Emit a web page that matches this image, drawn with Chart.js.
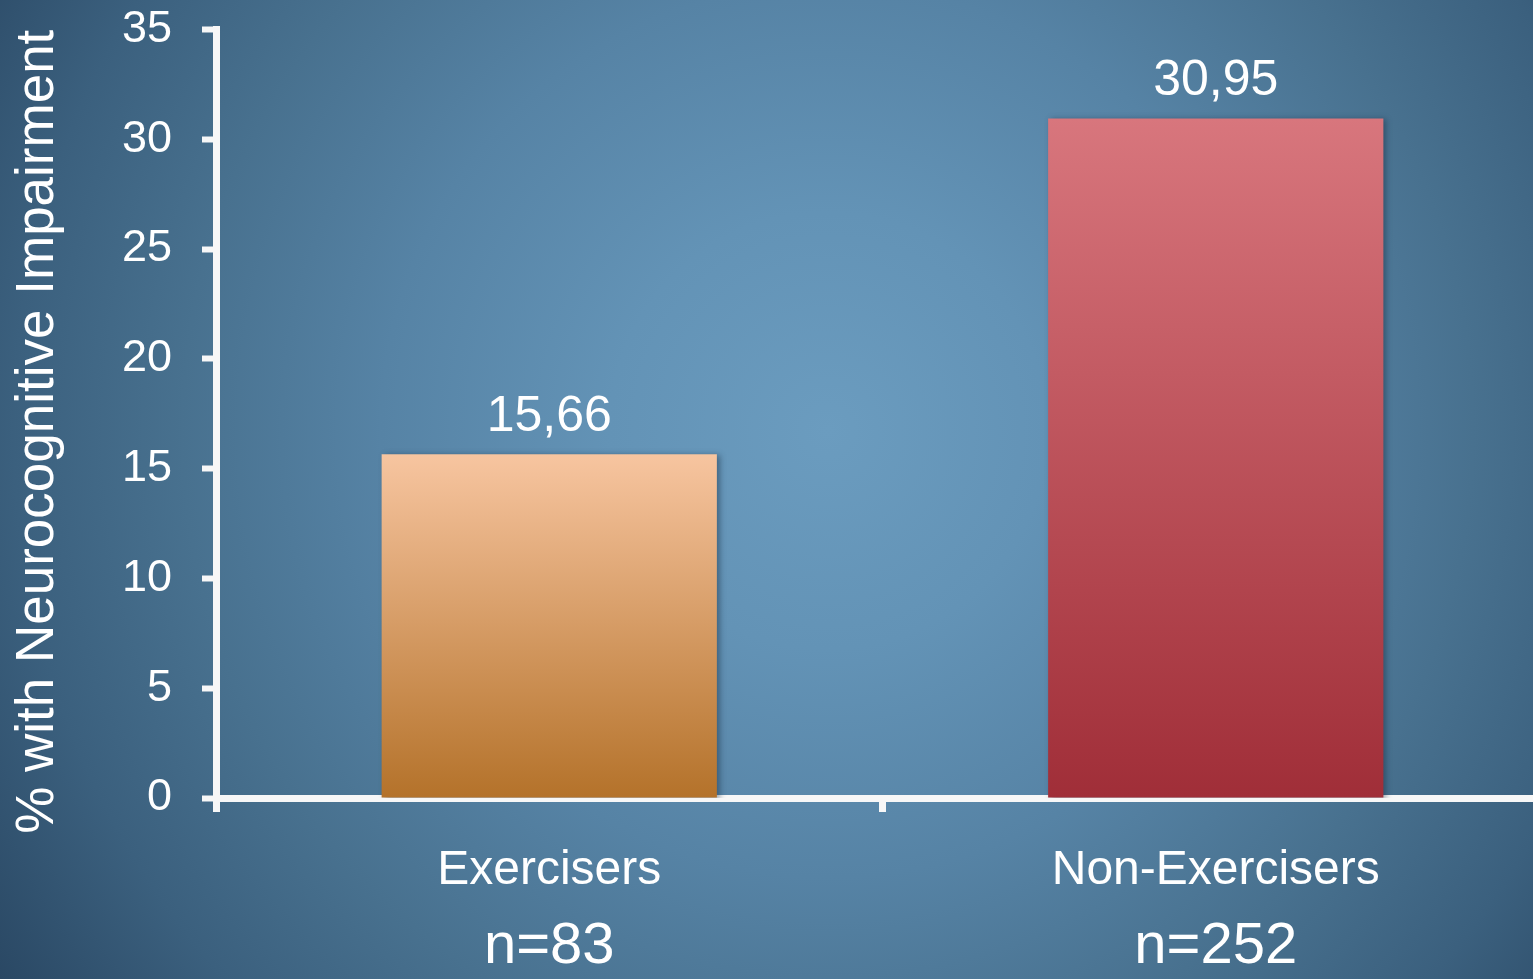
<!DOCTYPE html>
<html>
<head>
<meta charset="utf-8">
<script src="https://cdn.jsdelivr.net/npm/chart.js@4.4.1/dist/chart.umd.min.js"></script>
<style>
  html, body { margin: 0; padding: 0; overflow: hidden; }
  body {
    width: 1533px; height: 979px;
    background: radial-gradient(circle farthest-corner at 54% 44%,
      #6b9cbf 0%, #6393b6 22%, #5683a5 45%, #48718f 65%, #3b607e 82%, #2a4864 100%);
  }
  #wrap { position: relative; width: 1549px; height: 979px; }
</style>
</head>
<body>
<div id="wrap"><canvas id="chart"></canvas></div>
<script>
const categories    = ['Exercisers', 'Non-Exercisers'];
const sampleSizes   = ['n=83', 'n=252'];
const impairmentPct = [15.66, 30.95];
const yMin = 0, yMax = 35, yStep = 5;
const yTitle = '% with Neurocognitive Impairment';

// top / bottom colours of each bar's vertical fade
const barTop    = ['#f7c5a0', '#d8767d'];
const barBottom = ['#b4722a', '#a02e38'];

const AXIS = '#f7f7f7';
const FONT = '"Liberation Sans", Arial, sans-serif';
Chart.defaults.font.family = FONT;
Chart.defaults.color = '#ffffff';

const fmt = v => v.toFixed(2).replace('.', ',');

const barFill = ctx => {
    const chart = ctx.chart;
    const i = ctx.dataIndex;
    const y = chart.scales.y;
    if (!chart.chartArea || !y || i === undefined) return barTop[0];
    const top = y.getPixelForValue(impairmentPct[i]);
    const bottom = y.getPixelForValue(0);
    if (!isFinite(top) || !isFinite(bottom)) return barTop[i];
    const g = chart.ctx.createLinearGradient(0, top, 0, bottom);
    g.addColorStop(0, barTop[i]);
    g.addColorStop(1, barBottom[i]);
    return g;
};

// soft drop shadow under the bars, then the value on top of each
const barDecor = {
    id: 'barDecor',
    beforeDatasetsDraw(chart) {
        const c = chart.ctx;
        c.save();
        c.shadowColor = 'rgba(20,40,60,0.45)';
        c.shadowBlur = 6;
        c.shadowOffsetX = 3;
        c.shadowOffsetY = 1;
    },
    afterDatasetsDraw(chart) {
        const c = chart.ctx;
        c.restore();
        c.save();
        c.font = '50px ' + FONT;
        c.fillStyle = '#ffffff';
        c.textAlign = 'center';
        c.textBaseline = 'alphabetic';
        chart.getDatasetMeta(0).data.forEach((bar, i) => {
            c.fillText(fmt(impairmentPct[i]), bar.x, bar.y - 23);
        });
        c.restore();
    }
};

// rotated y-axis title, sitting a little below the axis midpoint
const axisTitle = {
    id: 'axisTitle',
    afterDraw(chart) {
        const y = chart.scales.y;
        const c = chart.ctx;
        c.save();
        c.translate(y.left + 38, (y.top + y.bottom) / 2 + 18);
        c.rotate(-Math.PI / 2);
        c.font = '53px ' + FONT;
        c.fillStyle = '#ffffff';
        c.textAlign = 'center';
        c.textBaseline = 'middle';
        c.fillText(yTitle, 0, 0);
        c.restore();
    }
};

const noPad = s => { s.paddingTop = 0; s.paddingBottom = 0; s.paddingLeft = 0; s.paddingRight = 0; };

new Chart(document.getElementById('chart'), {
    type: 'bar',
    data: {
        labels: categories,
        datasets: [{
            data: impairmentPct,
            backgroundColor: barFill,
            borderWidth: 0,
            categoryPercentage: 0.503,
            barPercentage: 1.0
        }]
    },
    options: {
        responsive: true,
        maintainAspectRatio: false,
        animation: false,
        layout: { padding: { top: 29.5, left: 0, right: 0, bottom: 0 } },
        plugins: { legend: { display: false }, tooltip: { enabled: false } },
        scales: {
            y: {
                min: yMin, max: yMax,
                z: 1,
                ticks: { stepSize: yStep, font: { size: 45 }, color: '#ffffff', padding: 30 },
                grid: { drawOnChartArea: false, tickLength: 14, tickWidth: 6, tickColor: AXIS },
                border: { display: true, color: AXIS, width: 7 },
                afterFit: s => { s.width = 216; noPad(s); }
            },
            x: {
                z: 1,
                offset: true,
                ticks: { font: { size: 48 }, color: '#ffffff', padding: 30, maxRotation: 0 },
                grid: { offset: true, drawOnChartArea: false, tickLength: 14, tickWidth: 7, tickColor: AXIS },
                border: { display: true, color: AXIS, width: 7 },
                afterFit: s => { s.height = 100; noPad(s); }
            },
            x2: {
                type: 'category',
                position: 'bottom',
                labels: sampleSizes,
                offset: true,
                ticks: { font: { size: 58 }, color: '#ffffff', padding: 14, maxRotation: 0 },
                grid: { display: false, drawTicks: false },
                border: { display: false },
                afterFit: s => { s.height = 81; noPad(s); }
            }
        }
    },
    plugins: [barDecor, axisTitle]
});
</script>
</body>
</html>
